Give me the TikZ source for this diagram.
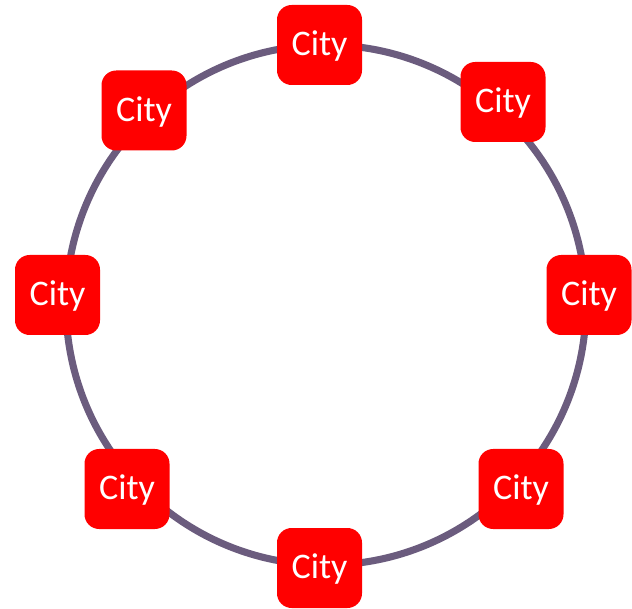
\documentclass[tikz,border=0pt]{standalone}
\usepackage{fontspec}
\setmainfont{Carlito}
\definecolor{ringc}{RGB}{107,92,126}
\definecolor{cityred}{RGB}{255,0,0}
\tikzset{
  citybox/.style={rectangle, rounded corners=11pt, fill=cityred, draw=none,
    minimum width=63.75pt, minimum height=60pt, inner sep=0pt,
    text height=16pt, text depth=-3.5pt,
    text=white, font=\fontsize{27}{32}\selectfont},
  ring/.style={draw=ringc, line width=5.3pt}
}
\begin{document}
\begin{tikzpicture}[x=0.75pt,y=-0.75pt]
\useasboundingbox (0,0) rectangle (632,609);
\node[circle, minimum size=520*0.75pt, inner sep=0pt, ring] (ring) at (326,305) {};
\node[citybox] (n1) at (319.5,45) {City};
\node[citybox] (n2) at (503,102) {City};
\node[citybox] (n3) at (589,295) {City};
\node[citybox] (n4) at (521,489) {City};
\node[citybox] (n5) at (319.5,568) {City};
\node[citybox] (n6) at (127,489) {City};
\node[citybox] (n7) at (57.5,295) {City};
\node[citybox] (n8) at (144,110.5) {City};
\end{tikzpicture}
\end{document}
